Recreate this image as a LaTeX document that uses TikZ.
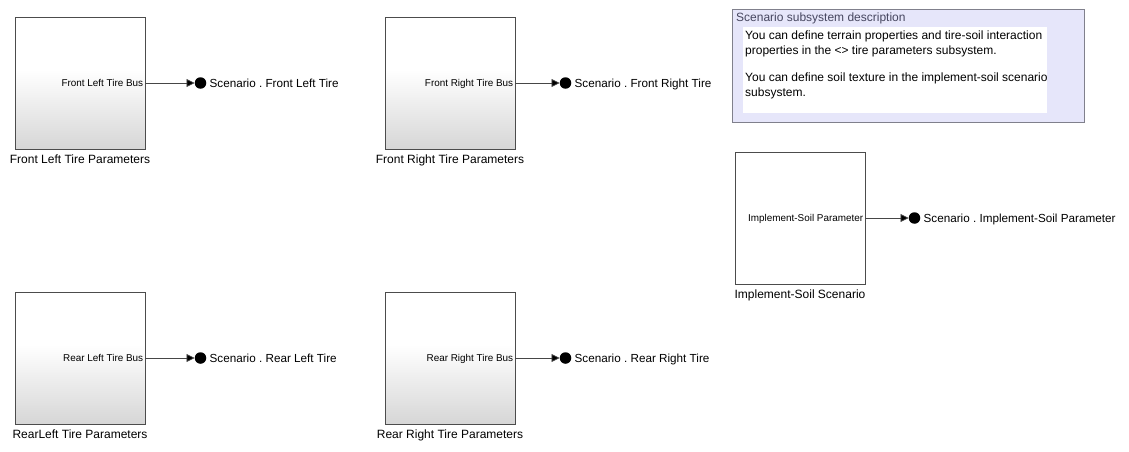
\documentclass[tikz,border=0pt]{standalone}
\usepackage{fontspec}
\setmainfont{Liberation Sans}
\frenchspacing
\usetikzlibrary{arrows.meta,shadows}
\pgfdeclareverticalshading{blockshade}{100bp}{color(0bp)=(black!16); color(25bp)=(black!16); color(55bp)=(white); color(100bp)=(white)}
\definecolor{annofill}{RGB}{230,230,250}
\definecolor{annoborder}{RGB}{128,128,140}
\definecolor{annotitle}{RGB}{70,70,95}
\definecolor{wirecol}{RGB}{70,70,70}
\tikzset{
  x=1pt, y=-1pt,
  blockbox/.style={draw=black!70, line width=0.8pt, minimum width=130pt, minimum height=132pt, inner sep=0pt,
     drop shadow={shadow xshift=1pt, shadow yshift=-1pt, opacity=0.25, fill=black}},
  tireblock/.style={blockbox, shading=blockshade},
  plainblock/.style={blockbox, fill=white},
  portlabel/.style={anchor=east, inner sep=2pt, text depth=0pt, font=\fontsize{9.9}{11}\selectfont},
  caption/.style={anchor=base, inner sep=0pt, font=\fontsize{12}{14}\selectfont},
  sigdot/.style={circle, fill=black, minimum size=11.5pt, inner sep=0pt},
  siglabel/.style={anchor=west, inner sep=3pt, text depth=0pt, font=\fontsize{11.7}{14}\selectfont},
  wire/.style={draw=wirecol, line width=0.7pt, -{Triangle[length=8pt,width=8pt,fill=black]}},
}
\begin{document}
\begin{tikzpicture}
\useasboundingbox (0,0) rectangle (1129,452);

% Front Left
\node[tireblock] (FL) at (80,83) {};
\node[portlabel] (FLp) at (FL.east) {Front Left Tire Bus};
\node[caption] (FLc) at ([yshift=-14.5pt]FL.south) {Front Left Tire Parameters};
\node[sigdot] (FLd) at (200.5,83) {};
\node[siglabel] (FLs) at (FLd.east) {Scenario . Front Left Tire};
\draw[wire] (FL.east) -- (FLd.west);

% Front Right
\node[tireblock] (FR) at (450,83) {};
\node[portlabel] (FRp) at (FR.east) {Front Right Tire Bus};
\node[caption] (FRc) at ([yshift=-14.5pt]FR.south) {Front Right Tire Parameters};
\node[sigdot] (FRd) at (565.5,83) {};
\node[siglabel] (FRs) at (FRd.east) {Scenario . Front Right Tire};
\draw[wire] (FR.east) -- (FRd.west);

% Rear Left
\node[tireblock] (RL) at (80,358) {};
\node[portlabel] (RLp) at (RL.east) {Rear Left Tire Bus};
\node[caption] (RLc) at ([yshift=-14.5pt]RL.south) {RearLeft Tire Parameters};
\node[sigdot] (RLd) at (200.5,358) {};
\node[siglabel] (RLs) at (RLd.east) {Scenario . Rear Left Tire};
\draw[wire] (RL.east) -- (RLd.west);

% Rear Right
\node[tireblock] (RR) at (450,358) {};
\node[portlabel] (RRp) at (RR.east) {Rear Right Tire Bus};
\node[caption] (RRc) at ([yshift=-14.5pt]RR.south) {Rear Right Tire Parameters};
\node[sigdot] (RRd) at (565.5,358) {};
\node[siglabel] (RRs) at (RRd.east) {Scenario . Rear Right Tire};
\draw[wire] (RR.east) -- (RRd.west);

% Implement-Soil
\node[plainblock] (IS) at (800,218) {};
\node[portlabel] (ISp) at (IS.east) {Implement-Soil Parameter};
\node[caption] (ISc) at ([yshift=-14.5pt]IS.south) {Implement-Soil Scenario};
\node[sigdot] (ISd) at (914.5,218) {};
\node[siglabel] (ISs) at (ISd.east) {Scenario . Implement-Soil Parameter};
\draw[wire] (IS.east) -- (ISd.west);

% Annotation
\node[draw=annoborder, fill=annofill, line width=0.7pt, minimum width=352pt, minimum height=113.5pt, inner sep=0pt] (anno) at (908.3,65.8) {};
\node[anchor=base west, inner sep=0pt, text=annotitle, font=\fontsize{12}{14}\selectfont] (annot) at (736,21.5) {Scenario subsystem description};
\node[fill=white, minimum width=304.5pt, minimum height=86pt, inner sep=0pt] (annow) at (895,70.3) {};
\node[anchor=north west, inner sep=0pt, align=left, font=\fontsize{12}{15.5}\selectfont] (annotext) at (745,30.5)
  {You can define terrain properties and tire-soil interaction\\
   properties in the <> tire parameters subsystem.\\[11pt]
   You can define soil texture in the implement-soil scenario\\
   subsystem.};
\end{tikzpicture}
\end{document}
